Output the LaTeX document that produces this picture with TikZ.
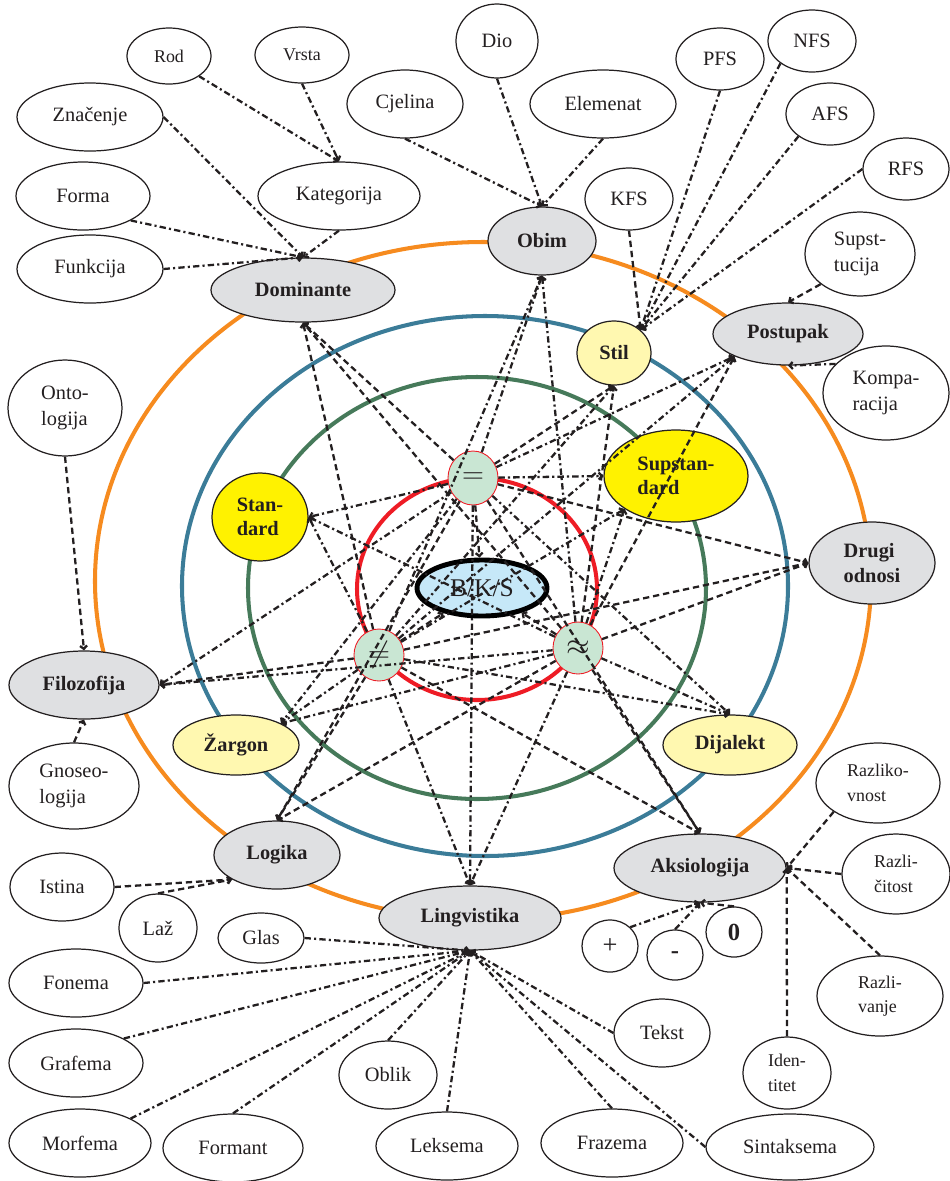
\documentclass[tikz,border=0pt]{standalone}
\usepackage{fontspec}
\setmainfont{Liberation Serif}
\usepackage{tikz}
\usetikzlibrary{shapes.geometric,arrows.meta}
\definecolor{ringorange}{HTML}{F68B1F}
\definecolor{ringblue}{HTML}{3B7C98}
\definecolor{ringgreen}{HTML}{467A5A}
\definecolor{ringred}{HTML}{EE1C25}
\definecolor{hubgray}{HTML}{DFE0E2}
\definecolor{paleyellow}{HTML}{FFF8B0}
\definecolor{brightyellow}{HTML}{FFF200}
\definecolor{signgreen}{HTML}{C9E6D3}
\definecolor{bksblue}{HTML}{C6E8F8}
\definecolor{inkgray}{HTML}{231F20}

\begin{document}
\begin{tikzpicture}[x=0.02cm,y=-0.02cm,text=inkgray,
  font=\fontsize{11.6}{15}\selectfont,
  oval/.style 2 args={ellipse,draw=inkgray,line width=0.7pt,inner sep=0pt,
    minimum width=#1*0.02cm,minimum height=#2*0.02cm,align=left},
  leaf/.style={fill=white},
  small/.style={font=\fontsize{10.2}{14}\selectfont},
  hub/.style={fill=hubgray,font=\fontsize{11.6}{14}\selectfont\bfseries},
  pale/.style={fill=paleyellow,font=\fontsize{11.6}{14}\selectfont\bfseries},
  bright/.style={fill=brightyellow,font=\fontsize{11.6}{14}\selectfont\bfseries},
  sign/.style={fill=signgreen,draw=ringred,line width=0.5pt,font=\fontsize{16}{18}\selectfont},
  valuesign/.style={font=\fontsize{14}{16}\selectfont\bfseries},
  ring/.style={line width=2.3pt},
  ds/.style={draw=inkgray,line width=1.3pt,dash pattern=on 3.6pt off 2.2pt,
    -{Straight Barb[length=1.8pt,width=4pt]}},
  dd/.style={draw=inkgray,line width=1.3pt,dash pattern=on 3.6pt off 1.8pt on 1.2pt off 1.8pt,
    -{Straight Barb[length=1.8pt,width=4pt]}}]
\useasboundingbox (0,0) rectangle (950,1181);
% rings
\draw[ring,ringorange] (483,581) ellipse [x radius=388, y radius=339];
\draw[ring,ringblue] (485,586) ellipse [x radius=303, y radius=270];
\draw[ring,ringgreen] (477,588) ellipse [x radius=229, y radius=211];
\draw[ring,ringred] (477,589) ellipse [x radius=120, y radius=111];

% centre
\node[oval={130}{56},fill=bksblue,line width=2.8pt,draw=black,
  font=\fontsize{14.5}{16}\selectfont] (bks) at (482,588) {B/K/S};
\node[oval={50}{54},sign] (eq) at (473,478) {$=$};
\node[oval={50}{52},sign] (neq) at (379,655) {$\neq$};
\node[oval={50}{52},sign] (apx) at (578,648) {$\approx$};

% yellow
\node[oval={74}{64},pale] (stil) at (614,353) {Stil};
\node[oval={144}{92},bright] (sup) at (676,476) {Supstan-\\dard};
\node[oval={96}{88},bright] (stand) at (260,517) {Stan-\\dard};
\node[oval={126}{60},pale] (zarg) at (236,745) {Žargon};
\node[oval={134}{60},pale] (dij) at (730,745) {Dijalekt};

% gray
\node[oval={184}{64},hub] (dom) at (303,290) {Dominante};
\node[oval={108}{68},hub] (obim) at (542,241) {Obim};
\node[oval={150}{62},hub] (post) at (788,334) {Postupak};
\node[oval={126}{82},hub] (drugi) at (872,563) {Drugi\\odnosi};
\node[oval={172}{68},hub] (aks) at (700,868) {Aksiologija};
\node[oval={182}{64},hub] (ling) at (470,918) {Lingvistika};
\node[oval={126}{68},hub] (log) at (277,855) {Logika};
\node[oval={150}{68},hub] (filo) at (84,685) {Filozofija};

% leaves
\node[oval={84}{56},leaf,small] (rod) at (169,56) {Rod};
\node[oval={94}{56},leaf,small] (vrsta) at (302,55) {Vrsta};
\node[oval={146}{68},leaf] (znac) at (90,117) {Značenje};
\node[oval={116}{68},leaf] (cjel) at (405,104) {Cjelina};
\node[oval={134}{68},leaf] (forma) at (83,196) {Forma};
\node[oval={162}{68},leaf] (kat) at (339,196) {Kategorija};
\node[oval={146}{68},leaf] (funk) at (90,269) {Funkcija};
\node[oval={82}{74},leaf] (dio) at (497,41) {Dio};
\node[oval={146}{68},leaf] (elem) at (603,104) {Elemenat};
\node[oval={88}{62},leaf] (pfs) at (720,59) {PFS};
\node[oval={88}{62},leaf] (nfs) at (812,41) {NFS};
\node[oval={88}{62},leaf] (afs) at (830,114) {AFS};
\node[oval={86}{62},leaf] (rfs) at (906,169) {RFS};
\node[oval={88}{62},leaf] (kfs) at (629,199) {KFS};
\node[oval={110}{84},leaf] (supst) at (860,254) {Supst-\\tucija};
\node[oval={126}{94},leaf] (kompa) at (886,393) {Kompa-\\racija};
\node[oval={114}{96},leaf] (onto) at (65,408) {Onto-\\logija};
\node[oval={130}{86},leaf] (gnos) at (74,786) {Gnoseo-\\logija};
\node[oval={104}{68},leaf] (ist) at (62,887) {Istina};
\node[oval={78}{68},leaf] (laz) at (158,928) {Laž};
\node[oval={86}{50},leaf] (glas) at (261,938) {Glas};
\node[oval={134}{68},leaf] (fon) at (76,983) {Fonema};
\node[oval={134}{68},leaf] (graf) at (76,1063) {Grafema};
\node[oval={142}{68},leaf] (morf) at (80,1143) {Morfema};
\node[oval={140}{68},leaf] (formant) at (233,1148) {Formant};
\node[oval={98}{68},leaf] (oblik) at (388,1075) {Oblik};
\node[oval={142}{68},leaf] (leks) at (447,1146) {Leksema};
\node[oval={142}{68},leaf] (fraz) at (612,1143) {Frazema};
\node[oval={168}{66},leaf] (sint) at (790,1147) {Sintaksema};
\node[oval={96}{68},leaf] (tekst) at (662,1033) {Tekst};
\node[oval={56}{52},leaf,font=\fontsize{15}{16}\selectfont] (plus) at (610,946) {+};
\node[oval={56}{50},leaf,valuesign] (minus) at (675,955) {-};
\node[oval={56}{50},leaf,valuesign] (nula) at (734,932) {0};
\node[oval={124}{80},leaf,small] (rvn) at (878,783) {Razliko-\\vnost};
\node[oval={108}{80},leaf,small] (rct) at (896,874) {Razli-\\čitost};
\node[oval={126}{80},leaf,small] (rvj) at (880,996) {Razli-\\vanje};
\node[oval={88}{72},leaf,small] (iden) at (787,1073) {Iden-\\titet};

% outer links
\draw[dd] (rod.south east) -- (kat.north);
\draw[dd] (vrsta.south) -- (kat.north);
\draw[dd] (znac.east) -- (dom.north);
\draw[dd] (forma.south east) -- (dom.north);
\draw[dd] (funk.east) -- (dom.north);
\draw[dd] (kat.south) -- (dom.north);
\draw[dd] (cjel.south) -- (obim.north);
\draw[dd] (dio.south) -- (obim.north);
\draw[dd] (elem.south) -- (obim.north);
\draw[ds] (kfs.south) -- (stil.north east);
\draw[dd] (pfs.south) -- (stil.north east);
\draw[dd] (nfs.south west) -- (stil.north east);
\draw[dd] (afs.south west) -- (stil.north east);
\draw[dd] (rfs.west) -- (stil.north east);
\draw[ds] (supst.south west) -- (post.north);
\draw[dd] (kompa.150) -- (post.south);
\draw[ds] (onto.south) -- (filo.north);
\draw[ds] (gnos.north) -- (filo.south);
\draw[ds] (ist.east) -- (log.south west);
\draw[ds] (laz.north) -- (log.south west);
\draw[dd] (glas.east) -- (ling.south);
\draw[dd] (fon.east) -- (ling.south);
\draw[dd] (graf.north east) -- (ling.south);
\draw[dd] (morf.north east) -- (ling.south);
\draw[dd] (formant.north) -- (ling.south);
\draw[dd] (oblik.north) -- (ling.south);
\draw[dd] (leks.north) -- (ling.south);
\draw[dd] (fraz.north) -- (ling.south);
\draw[dd] (sint.west) -- (ling.south);
\draw[dd] (tekst.west) -- (ling.south);
\draw[ds] (rvn.south west) -- (aks.east);
\draw[ds] (rct.west) -- (aks.east);
\draw[ds] (rvj.north) -- (aks.east);
\draw[ds] (iden.north) -- (aks.east);
\draw[dd] (plus.north east) -- (aks.south);
\draw[dd] (minus.north) -- (aks.south);
\draw[ds] (nula.north) -- (aks.south);

% web
\draw[ds] (eq) -- (dom.south);
\draw[ds] (neq) -- (dom.south);
\draw[ds] (apx) -- (dom.south);
\draw[dd] (eq) -- (obim.south);
\draw[dd] (neq) -- (obim.south);
\draw[dd] (apx) -- (obim.south);
\draw[ds] (eq) -- (stil.south);
\draw[dd] (neq) -- (stil.south);
\draw[ds] (apx) -- (stil.south);
\draw[dd] (eq) -- (post.south west);
\draw[dd] (neq) -- (post.south west);
\draw[ds] (apx) -- (post.south west);
\draw[dd] (eq) -- (sup.west);
\draw[dd] (neq) -- (sup.south west);
\draw[dd] (apx) -- (sup.south west);
\draw[ds] (eq) -- (drugi.west);
\draw[ds] (neq) -- (drugi.west);
\draw[ds] (apx) -- (drugi.west);
\draw[dd] (eq) -- (stand.east);
\draw[dd] (neq) -- (stand.east);
\draw[dd] (apx) -- (stand.east);
\draw[dd] (eq) -- (dij.north);
\draw[dd] (neq) -- (dij.north);
\draw[dd] (apx) -- (dij.north);
\draw[ds] (eq) -- (aks.north);
\draw[ds] (neq) -- (aks.north);
\draw[ds] (apx) -- (aks.north);
\draw[dd] (eq) -- (ling.north);
\draw[dd] (neq) -- (ling.north);
\draw[dd] (apx) -- (ling.north);
\draw[dd] (eq) -- (zarg.north east);
\draw[dd] (neq) -- (zarg.north east);
\draw[dd] (apx) -- (zarg.north east);
\draw[ds] (eq) -- (log.north);
\draw[ds] (neq) -- (log.north);
\draw[ds] (apx) -- (log.north);
\draw[dd] (eq) -- (filo.east);
\draw[ds] (neq) -- (filo.east);
\draw[dd] (apx) -- (filo.east);
\draw[ds] (eq) -- (bks);
\draw[ds] (neq) -- (bks);
\draw[ds] (apx) -- (bks);
\end{tikzpicture}
\end{document}
